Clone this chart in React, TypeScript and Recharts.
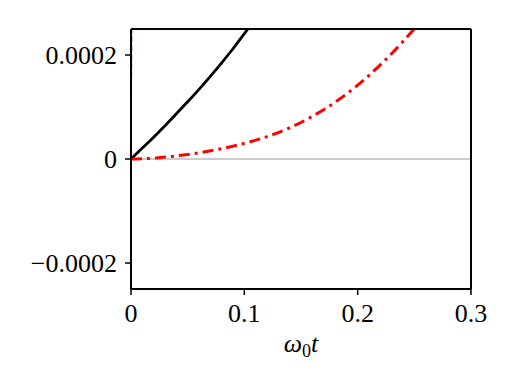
import { LineChart, Line, XAxis, YAxis, ReferenceLine } from 'recharts'

// black solid curve
const tBlack = [0, 0.01, 0.02, 0.03, 0.04, 0.05, 0.06, 0.07, 0.08, 0.09, 0.1, 0.11]
const vBlack = [0, 0.21, 0.42, 0.64, 0.87, 1.1, 1.34, 1.59, 1.85, 2.12, 2.41, 2.7]

// red dash-dot curve
const tRed = [0, 0.02, 0.04, 0.06, 0.08, 0.1, 0.12, 0.14, 0.16, 0.18, 0.2, 0.22, 0.24, 0.26]
const vRed = [0, 0.015, 0.06, 0.12, 0.2, 0.3, 0.43, 0.6, 0.82, 1.09, 1.42, 1.81, 2.26, 2.76]

// blue dashed, almost vertical at t = 0
const tBlue = [0, 0.001]
const vBlue = [0, 5]

const xTicks = [0, 0.1, 0.2, 0.3]
const yTicks = [-0.0002, 0, 0.0002]
const yLabels = ['\u22120.0002', '0', '0.0002']

const SCALE = 1e-4
const toRows = (ts: number[], vs: number[]) => ts.map((t, i) => ({ t, v: vs[i] * SCALE }))

const black = toRows(tBlack, vBlack)
const red = toRows(tRed, vRed)
const blue = toRows(tBlue, vBlue)

const FONT = '"Liberation Serif", "DejaVu Serif", serif'
const tickStyle = { fontSize: 26, fill: '#000', fontFamily: FONT }

function AxisLabel({ viewBox }: any) {
  const cx = viewBox.x + viewBox.width / 2
  return (
    <text x={cx} y={352} textAnchor="middle" fontFamily={FONT} fontSize={26} fontStyle="italic" fill="#000">
      ω<tspan fontSize={18} dy={5} fontStyle="normal">0</tspan>
      <tspan dy={-5}>t</tspan>
    </text>
  )
}

export default function App() {
  return (
    <div style={{ position: 'absolute', left: 0, top: 0, width: 511, height: 383, background: '#fff' }}>
      <LineChart
        width={511}
        height={383}
        margin={{ top: 29, right: 40, bottom: 34, left: 0 }}
        style={{ fontFamily: FONT }}
      >
        <XAxis
          dataKey="t"
          type="number"
          domain={[0, 0.3]}
          ticks={xTicks}
          allowDataOverflow
          height={60}
          tick={tickStyle}
          tickFormatter={(v: number) => (v === 0 ? '0' : v.toFixed(1))}
          tickSize={6}
          tickMargin={9}
          tickLine={{ stroke: '#000', strokeWidth: 1.5 }}
          axisLine={{ stroke: '#000', strokeWidth: 2 }}
          label={<AxisLabel />}
        />
        <YAxis
          type="number"
          domain={[-0.00025, 0.00025]}
          ticks={yTicks}
          allowDataOverflow
          width={131}
          tick={tickStyle}
          tickFormatter={(v: number) => yLabels[yTicks.indexOf(v)] ?? String(v)}
          tickSize={6}
          tickMargin={8}
          tickLine={{ stroke: '#000', strokeWidth: 1.5 }}
          axisLine={{ stroke: '#000', strokeWidth: 2 }}
        />
        <ReferenceLine y={0} stroke="#999" strokeWidth={1} />
        <Line
          data={black}
          dataKey="v"
          type="monotone"
          stroke="#000"
          strokeWidth={2.8}
          dot={false}
          isAnimationActive={false}
        />
        <Line
          data={red}
          dataKey="v"
          type="monotone"
          stroke="#ff0000"
          strokeWidth={3}
          strokeDasharray="11 5 3 5"
          dot={false}
          isAnimationActive={false}
        />
        <Line
          data={blue}
          dataKey="v"
          type="linear"
          stroke="#1a1aa0"
          strokeWidth={1.5}
          strokeDasharray="6 3"
          dot={false}
          isAnimationActive={false}
        />
        {/* frame: top and right edges */}
        <ReferenceLine y={0.00025} stroke="#000" strokeWidth={2} ifOverflow="visible" />
        <ReferenceLine x={0.3} stroke="#000" strokeWidth={2} ifOverflow="visible" />
      </LineChart>
    </div>
  )
}
